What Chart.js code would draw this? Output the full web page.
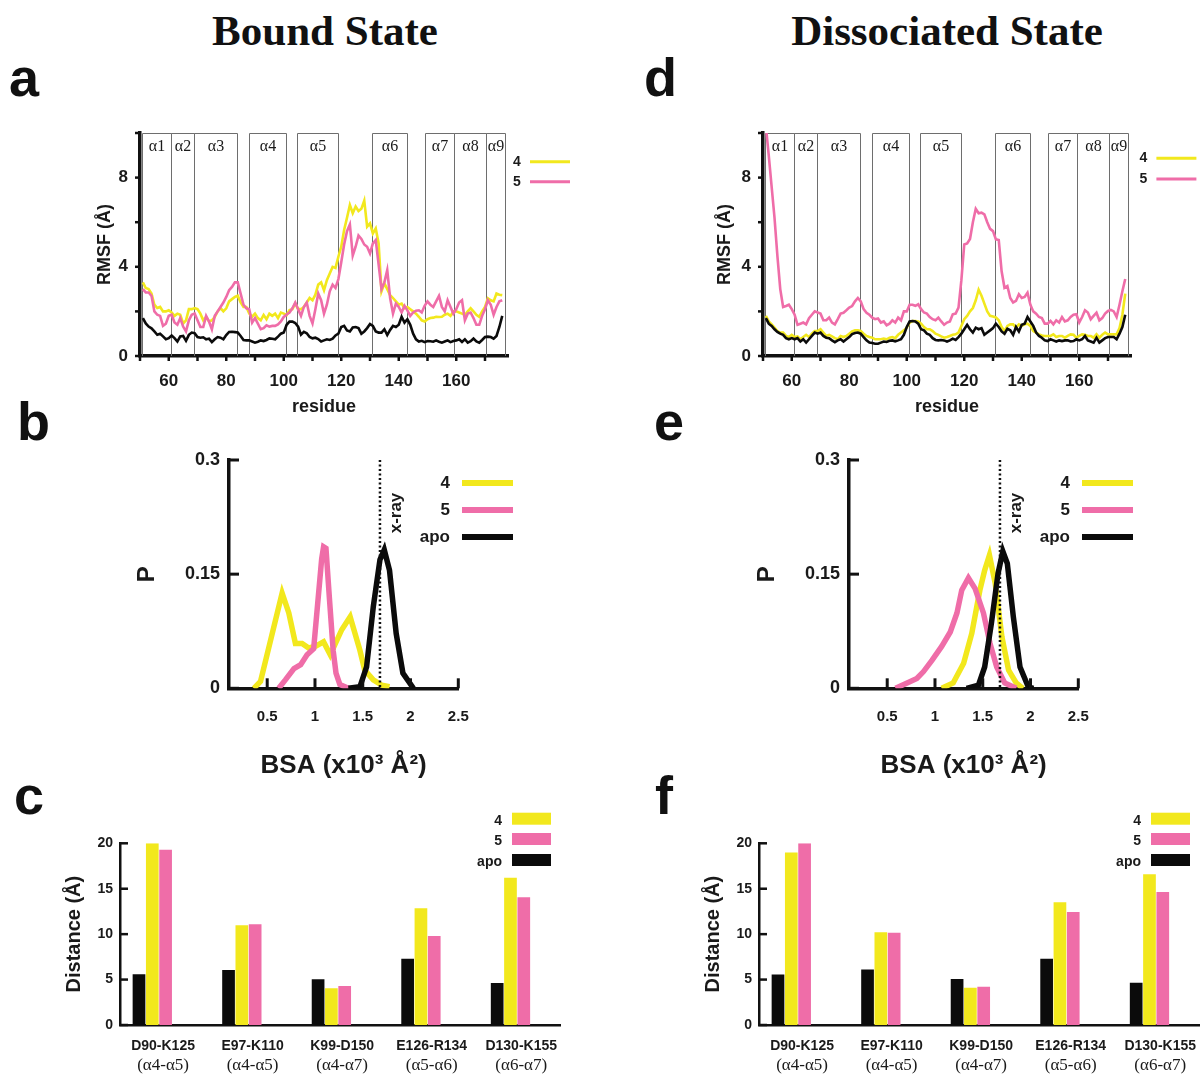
<!DOCTYPE html>
<html><head><meta charset="utf-8">
<script src="https://cdn.jsdelivr.net/npm/chart.js@4.4.1/dist/chart.umd.min.js"></script>
<style>
body{margin:0;background:#fff;width:1204px;height:1074px;position:relative;overflow:hidden;}
.title{position:absolute;font-family:'Liberation Serif','Times New Roman',serif;font-weight:bold;font-size:43px;line-height:1;color:#111;white-space:nowrap;transform:translateX(-50%);}
.letter{position:absolute;font-family:'Liberation Sans',Arial,sans-serif;font-weight:bold;font-size:54px;line-height:1;color:#111;}
canvas{position:absolute;}
</style></head>
<body>
<div class="title" style="left:325px;top:9px">Bound State</div>
<div class="title" style="left:947px;top:9px">Dissociated State</div>
<div class="letter" style="left:9px;top:50px">a</div>
<div class="letter" style="left:17px;top:394px">b</div>
<div class="letter" style="left:14px;top:768px">c</div>
<div class="letter" style="left:644px;top:50px">d</div>
<div class="letter" style="left:654px;top:394px">e</div>
<div class="letter" style="left:655px;top:768px">f</div>

<canvas id="ca" width="600" height="330" style="left:0px;top:100px"></canvas>
<canvas id="cd" width="581" height="330" style="left:623px;top:100px"></canvas>
<canvas id="cb" width="410" height="350" style="left:130px;top:440px"></canvas>
<canvas id="ce" width="410" height="350" style="left:750px;top:440px"></canvas>
<canvas id="cc" width="515" height="274" style="left:55px;top:800px"></canvas>
<canvas id="cf" width="510" height="274" style="left:694px;top:800px"></canvas>

<script>
// ---------------- DATA ----------------
const residues = [51,52,53,54,55,56,57,58,59,60,
 61,62,63,64,65,66,67,68,69,70,
 71,72,73,74,75,76,77,78,79,80,
 81,82,83,84,85,86,87,88,89,90,
 91,92,93,94,95,96,97,98,99,100,
 101,102,103,104,105,106,107,108,109,110,
 111,112,113,114,115,116,117,118,119,120,
 121,122,123,124,125,126,127,128,129,130,
 131,132,133,134,135,136,137,138,139,140,
 141,142,143,144,145,146,147,148,149,150,
 151,152,153,154,155,156,157,158,159,160,
 161,162,163,164,165,166,167,168,169,170,
 171,172,173,174,175,176];

// Bound state RMSF (Å)
const rmsfBound4 = [3.3,3.05,3.0,2.8,2.3,2.15,2.2,2.0,2.0,2.05,
 1.95,1.8,1.9,1.85,1.46,1.6,2.1,2.1,2.15,2.1,
 1.9,1.6,1.75,1.55,1.6,1.75,2.0,2.15,2.0,2.14,
 2.45,2.55,2.65,2.7,2.4,2.2,2.2,1.9,1.76,1.9,
 1.7,1.6,1.84,1.65,1.9,1.8,1.9,1.7,1.95,1.9,
 1.84,2.06,2.1,2.36,2.1,2.1,2.2,2.4,2.6,2.5,
 2.75,3.2,3.3,2.95,3.4,3.7,4.0,3.95,4.45,4.9,
 5.65,6.2,6.77,6.4,6.7,6.5,6.6,6.97,5.8,5.95,
 5.5,5.72,5.05,2.9,3.26,3.0,2.73,2.6,2.45,2.3,
 2.35,2.14,2.2,2.1,2.0,1.9,1.76,1.6,1.55,1.65,
 1.7,1.72,1.76,1.75,1.76,1.85,1.9,1.8,2.0,2.0,
 1.95,1.9,1.84,2.0,2.14,2.0,1.85,1.76,2.0,2.2,
 2.59,2.5,2.45,2.8,2.75,2.73];
const rmsfBound5 = [3.0,2.85,2.85,2.7,2.0,1.85,1.8,1.35,1.45,1.8,
 1.85,1.5,1.4,1.7,1.32,1.1,1.6,1.85,1.91,1.6,
 1.3,1.3,1.8,1.55,1.2,1.8,2.0,2.2,2.4,2.65,
 2.95,3.1,3.3,3.3,2.8,2.3,2.14,2.1,1.5,1.7,
 1.45,1.2,1.25,1.38,1.32,1.35,1.35,1.42,1.55,1.75,
 1.86,1.95,2.14,2.4,2.1,1.8,2.2,2.4,1.8,1.46,
 2.1,2.8,2.5,1.9,2.3,2.9,3.2,3.05,3.45,4.2,
 5.0,5.6,5.9,4.5,4.9,5.4,5.25,5.0,4.9,4.6,
 5.05,5.2,4.1,3.0,3.3,3.85,2.6,1.9,2.35,2.2,
 1.95,2.25,2.05,1.8,1.95,2.03,2.05,1.95,2.25,2.45,
 2.3,2.2,2.45,2.7,2.2,2.0,2.5,2.2,1.9,2.1,
 2.4,2.5,1.6,1.9,1.95,1.7,1.4,1.4,1.8,2.1,
 2.5,2.3,1.85,2.2,2.45,2.5];
const rmsfBoundApo = [1.7,1.46,1.32,1.24,1.1,0.95,1.0,0.88,0.75,0.8,
 0.92,0.8,0.65,0.88,0.9,0.68,0.95,1.05,1.02,0.85,
 0.82,0.84,0.75,0.78,0.62,0.75,0.85,0.82,0.75,0.94,
 1.08,1.09,1.07,1.05,0.9,0.72,0.7,0.7,0.65,0.6,
 0.64,0.7,0.67,0.72,0.79,0.77,0.75,0.87,1.0,1.05,
 1.4,1.54,1.54,1.48,1.32,0.96,1.08,1.02,0.85,0.79,
 0.82,0.76,0.65,0.7,0.75,0.72,0.78,0.92,1.0,1.3,
 1.35,1.15,1.1,1.28,1.3,1.25,1.0,1.1,1.25,1.43,
 1.35,1.1,1.05,1.05,1.2,0.94,1.17,1.35,1.3,1.4,
 1.76,1.5,1.65,1.4,1.0,0.75,0.65,0.68,0.62,0.67,
 0.66,0.64,0.7,0.64,0.6,0.65,0.7,0.62,0.67,0.7,
 0.75,0.63,0.75,0.6,0.66,0.78,0.65,0.6,0.72,0.85,
 0.87,0.85,0.78,0.9,1.3,1.8];

// Dissociated state RMSF (Å)
const rmsfDiss4 = [1.8,1.55,1.42,1.27,1.12,1.05,1.05,0.9,0.85,0.95,
 0.85,0.88,0.75,0.85,0.95,0.85,1.0,1.12,1.12,1.2,
 1.05,0.9,0.95,0.88,0.8,0.75,0.9,0.85,0.9,1.0,
 1.1,1.15,1.15,1.12,1.0,0.9,0.85,0.82,0.75,0.75,
 0.75,0.78,0.75,0.82,0.85,0.8,0.95,1.05,1.15,1.27,
 1.5,1.57,1.57,1.55,1.45,1.3,1.2,1.2,1.12,1.0,
 0.95,0.88,0.82,0.85,0.9,0.95,0.97,1.05,1.35,1.65,
 1.8,2.0,2.15,2.5,2.97,2.7,2.35,2.0,1.8,1.77,
 1.73,1.6,1.3,1.12,1.35,1.42,1.42,1.27,1.42,1.35,
 1.42,1.45,1.35,1.12,1.05,0.97,0.92,0.9,0.9,0.9,
 0.97,0.85,0.9,0.9,0.82,0.9,0.97,0.95,0.82,0.9,
 0.97,0.95,0.9,0.9,0.82,0.97,0.82,0.95,1.05,0.97,
 0.97,0.97,0.97,1.25,1.85,2.8];
const rmsfDiss5 = [10.3,9.0,7.6,6.2,4.5,3.0,2.2,2.24,2.3,2.1,
 1.85,1.4,1.45,1.5,1.42,1.7,1.85,2.0,1.95,1.9,
 1.6,1.6,1.72,1.5,1.42,1.65,1.9,1.94,2.05,2.17,
 2.24,2.45,2.6,2.45,2.1,1.94,1.85,1.72,1.65,1.68,
 1.5,1.55,1.38,1.45,1.6,1.5,1.72,1.6,2.0,2.0,
 2.3,2.3,2.25,2.32,2.1,1.95,1.9,1.75,1.65,1.6,
 1.72,1.55,1.4,1.5,1.55,1.87,1.9,2.17,3.4,5.0,
 5.05,5.25,6.0,6.6,6.4,6.43,6.35,6.0,5.7,5.6,
 5.23,5.2,3.8,3.06,3.14,2.6,2.4,2.47,2.77,2.6,
 2.65,2.84,2.3,2.0,1.9,1.75,1.7,1.45,1.45,1.57,
 1.42,1.6,1.5,1.75,1.55,1.6,1.75,1.85,1.87,1.5,
 1.75,2.05,1.95,1.65,1.8,1.94,1.6,1.7,1.9,2.02,
 2.07,2.0,1.75,2.3,2.9,3.45];
const rmsfDissApo = [1.7,1.45,1.35,1.2,1.08,1.0,0.95,0.8,0.75,0.8,
 0.75,0.8,0.65,0.75,0.6,0.75,0.9,1.05,1.0,1.05,
 0.9,0.82,0.8,0.7,0.62,0.7,0.75,0.65,0.75,0.85,
 0.98,1.03,1.05,1.0,0.85,0.7,0.6,0.58,0.55,0.55,
 0.6,0.65,0.63,0.68,0.7,0.66,0.7,0.75,0.95,1.3,
 1.55,1.57,1.55,1.45,1.2,1.15,1.0,0.95,0.8,0.72,
 0.7,0.72,0.7,0.65,0.7,0.78,0.72,0.85,1.0,1.2,
 1.4,1.2,1.05,1.27,1.2,1.25,0.95,1.05,1.15,1.25,
 1.45,1.3,1.1,1.0,1.22,1.15,0.95,1.3,1.1,1.4,
 1.45,1.75,1.55,1.35,1.05,0.9,0.82,0.7,0.67,0.75,
 0.7,0.65,0.7,0.67,0.7,0.7,0.65,0.67,0.75,0.7,
 0.75,0.9,0.7,0.65,0.6,0.82,0.6,0.7,0.8,0.85,
 0.85,0.85,0.75,1.0,1.3,1.85];

// Helix boxes (residue boundaries)
const helixStart = [50.7, 60.8, 68.7, 87.8, 104.7, 130.8, 149.2, 159.3, 170.3];
const helixEnd   = [60.8, 68.7, 83.9, 100.8, 118.8, 142.8, 159.3, 170.3, 176.8];
const helixLabels = ['α1','α2','α3','α4','α5','α6','α7','α8','α9'];
const rmsfXTicks = [50,60,70,80,90,100,110,120,130,140,150,160,170];
const rmsfXLabels = [60,80,100,120,140,160];
const rmsfYTicks = [0,2,4,6,8,10];
const rmsfYLabels = [0,4,8];

// BSA distributions (x in 10^3 Å^2, P)
const bsaBound4X = [0.36,0.43,0.656,0.726,0.795,0.865,0.934,1.003,1.09,1.16,1.28,1.368,1.47,1.52,1.61,1.70,1.78];
const bsaBound4Y = [0,0.009,0.125,0.099,0.059,0.059,0.053,0.055,0.061,0.044,0.077,0.094,0.05,0.024,0.011,0.004,0.002];
const bsaBound5X = [0.62,0.69,0.78,0.85,0.917,0.986,1.07,1.09,1.115,1.15,1.19,1.22,1.26,1.35];
const bsaBound5Y = [0,0.011,0.026,0.031,0.044,0.052,0.17,0.186,0.184,0.12,0.05,0.02,0.005,0];
const bsaBoundApoX = [1.35,1.47,1.54,1.61,1.68,1.725,1.78,1.85,1.92,2.03];
const bsaBoundApoY = [0,0.002,0.028,0.107,0.169,0.182,0.155,0.072,0.02,0];
const bsaDiss4X = [1.07,1.19,1.30,1.385,1.47,1.52,1.57,1.63,1.70,1.77,1.85,1.92];
const bsaDiss4Y = [0,0.007,0.033,0.072,0.129,0.155,0.175,0.138,0.068,0.024,0.007,0];
const bsaDiss5X = [0.587,0.708,0.81,0.88,0.97,1.07,1.16,1.23,1.28,1.35,1.42,1.507,1.576,1.646,1.73,1.85];
const bsaDiss5Y = [0,0.007,0.013,0.022,0.037,0.055,0.074,0.099,0.129,0.145,0.131,0.099,0.059,0.028,0.007,0];
const bsaDissApoX = [1.33,1.455,1.52,1.59,1.66,1.71,1.757,1.82,1.89,1.976,2.03];
const bsaDissApoY = [0,0.004,0.028,0.085,0.151,0.18,0.164,0.094,0.028,0.002,0];
const bsaXray = 1.68;
const bsaXTicks = [0.5,1,1.5,2,2.5];
const bsaYTicks = [0,0.15,0.3];

// Distances (Å)
const pairNames = ['D90-K125','E97-K110','K99-D150','E126-R134','D130-K155'];
const pairHelices = ['(α4-α5)','(α4-α5)','(α4-α7)','(α5-α6)','(α6-α7)'];
const pairPos = [1,2,3,4,5];
const distBoundApo = [5.58,6.06,5.03,7.3,4.62];
const distBound4   = [20.0,10.97,4.04,12.84,16.2];
const distBound5   = [19.3,11.08,4.29,9.8,14.05];
const distDissApo  = [5.57,6.1,5.05,7.3,4.65];
const distDiss4    = [19.0,10.2,4.1,13.5,16.6];
const distDiss5    = [20.0,10.15,4.2,12.45,14.65];
const distYTicks = [0,5,10,15,20];

// ---------------- STYLE ----------------
const C4 = '#F2E81D', C5 = '#EF6DA8', CAPO = '#0b0b0b', TXT = '#1a1a1a';
const SANS = "'Liberation Sans', Arial, Helvetica, sans-serif";
const SERIF = "'Liberation Serif', 'Times New Roman', serif";
Chart.defaults.font.family = SANS;
Chart.defaults.font.weight = 'bold';
Chart.defaults.color = TXT;
Chart.defaults.animation = false;
Chart.defaults.plugins.legend.display = false;
Chart.defaults.plugins.tooltip.enabled = false;

const deco = {
  id: 'deco',
  beforeDatasetsDraw(chart, args, o) {
    if (!o.helix) return;
    const {ctx, scales: {x: xs, y: ys}} = chart;
    ctx.save();
    ctx.strokeStyle = '#6e6e6e'; ctx.lineWidth = 1;
    ctx.font = '16px ' + SERIF; ctx.fillStyle = TXT;
    ctx.textAlign = 'center'; ctx.textBaseline = 'middle';
    const yt = Math.round(ys.getPixelForValue(ys.max)) + 0.5;
    const yb = ys.getPixelForValue(ys.min);
    o.helix.starts.forEach((s, i) => {
      const x0 = Math.round(xs.getPixelForValue(s)) + 0.5;
      const x1 = Math.round(xs.getPixelForValue(o.helix.ends[i])) + 0.5;
      ctx.beginPath(); ctx.moveTo(x0, yb); ctx.lineTo(x0, yt); ctx.lineTo(x1, yt); ctx.lineTo(x1, yb); ctx.stroke();
      ctx.fillText(o.helix.labels[i], (x0 + x1) / 2, yt + 13);
    });
    ctx.restore();
  },
  afterDraw(chart, args, o) {
    const {ctx, chartArea: ca, scales: {x: xs}} = chart;
    ctx.save();
    (o.marks || []).forEach(m => {
      const sc = chart.scales[m.axis];
      ctx.strokeStyle = '#111'; ctx.lineWidth = m.width;
      sc.ticks.forEach(t => {
        const p = sc.getPixelForValue(t.value);
        ctx.beginPath();
        if (m.axis === 'x') { ctx.moveTo(p, ca.bottom); ctx.lineTo(p, ca.bottom + (m.dir === 'out' ? m.len : -m.len)); }
        else { ctx.moveTo(ca.left, p); ctx.lineTo(ca.left + (m.dir === 'out' ? -m.len : m.len), p); }
        ctx.stroke();
      });
    });
    if (o.xray) {
      const px = xs.getPixelForValue(o.xray.value);
      ctx.setLineDash([2, 2.5]); ctx.lineWidth = 2.5; ctx.strokeStyle = '#111';
      ctx.beginPath(); ctx.moveTo(px, ca.top); ctx.lineTo(px, ca.bottom); ctx.stroke();
      ctx.setLineDash([]);
      ctx.save(); ctx.translate(px + o.xray.dx, ca.top + o.xray.dy); ctx.rotate(-Math.PI / 2);
      ctx.font = 'bold 17px ' + SANS; ctx.fillStyle = TXT; ctx.textAlign = 'center'; ctx.textBaseline = 'middle';
      ctx.fillText(o.xray.label, 0, 0); ctx.restore();
    }
    if (o.legend) {
      const L = o.legend;
      ctx.font = 'bold ' + L.size + 'px ' + SANS;
      ctx.textAlign = 'right'; ctx.textBaseline = 'middle';
      L.order.forEach((lab, i) => {
        const ds = chart.data.datasets.find(d => d.label === lab);
        const col = ds.borderColor && L.type === 'line' ? ds.borderColor : ds.backgroundColor;
        const yy = ca.top + L.ys[i];
        ctx.fillStyle = TXT; ctx.fillText(lab, ca.right + L.tx, yy);
        if (L.type === 'line') {
          ctx.strokeStyle = col; ctx.lineWidth = L.lw;
          ctx.beginPath(); ctx.moveTo(ca.right + L.x0, yy); ctx.lineTo(ca.right + L.x1, yy); ctx.stroke();
        } else {
          ctx.fillStyle = col; ctx.fillRect(ca.right + L.x0, yy + L.ry - L.h / 2, L.x1 - L.x0, L.h);
        }
      });
    }
    if (o.cats) {
      const C = o.cats;
      ctx.fillStyle = TXT; ctx.textAlign = 'center'; ctx.textBaseline = 'middle';
      C.names.forEach((n, i) => {
        const px = xs.getPixelForValue(C.pos[i] + C.dx);
        ctx.font = 'bold 14px ' + SANS; ctx.fillText(n, px, ca.bottom + C.y1);
        ctx.font = '17px ' + SERIF; ctx.fillText(C.subs[i], px, ca.bottom + C.y2);
      });
    }
    ctx.restore();
  }
};
Chart.register(deco);

const pts = (xa, ya) => xa.map((x, i) => ({x: x, y: ya[i]}));

function rmsfChart(id, s4, s5, sApo, padRight, leg, yTitlePad) {
  return new Chart(document.getElementById(id), {
    type: 'line',
    data: {datasets: [
      {label: 'apo', data: pts(residues, sApo), borderColor: CAPO, borderWidth: 2.6, order: 0},
      {label: '5', data: pts(residues, s5), borderColor: C5, borderWidth: 2.6, order: 1},
      {label: '4', data: pts(residues, s4), borderColor: C4, borderWidth: 2.6, order: 2}
    ]},
    options: {
      responsive: false, animation: false,
      layout: {padding: {left: 80, right: padRight, top: 33, bottom: 10}},
      elements: {point: {radius: 0}, line: {tension: 0}},
      scales: {
        x: {type: 'linear', min: 50, max: 178,
          afterFit: s => { s.height = 64; },
          afterBuildTicks: s => { s.ticks = rmsfXTicks.map(v => ({value: v})); },
          ticks: {autoSkip: false, maxRotation: 0, padding: 15, font: {size: 17}, callback: v => rmsfXLabels.includes(v) ? String(v) : ''},
          grid: {display: false, drawTicks: false},
          border: {display: true, color: '#111', width: 3.5},
          title: {display: true, text: 'residue', font: {size: 18}, padding: {top: 0, bottom: 2}}},
        y: {type: 'linear', min: 0, max: 10,
          afterFit: s => { s.width = 60; },
          afterBuildTicks: s => { s.ticks = rmsfYTicks.map(v => ({value: v})); },
          ticks: {autoSkip: false, padding: 12, font: {size: 17}, callback: v => rmsfYLabels.includes(v) ? String(v) : ''},
          grid: {display: false, drawTicks: false},
          border: {display: true, color: '#111', width: 3.5},
          title: {display: true, text: 'RMSF (Å)', font: {size: 18}, padding: {top: yTitlePad, bottom: 0}}}
      },
      plugins: {deco: {
        helix: {starts: helixStart, ends: helixEnd, labels: helixLabels},
        marks: [{axis: 'x', dir: 'out', len: 5, width: 2.5}, {axis: 'y', dir: 'out', len: 5, width: 2.5}],
        legend: Object.assign({type: 'line', order: ['4', '5'], size: 14, lw: 3}, leg)
      }}
    }
  });
}

function bsaChart(id, x4, y4, x5, y5, xa, ya) {
  return new Chart(document.getElementById(id), {
    type: 'line',
    data: {datasets: [
      {label: 'apo', data: pts(xa, ya), borderColor: CAPO, borderWidth: 5.5, order: 0},
      {label: '5', data: pts(x5, y5), borderColor: C5, borderWidth: 5.5, order: 1},
      {label: '4', data: pts(x4, y4), borderColor: C4, borderWidth: 5.5, order: 2}
    ]},
    options: {
      responsive: false, animation: false,
      layout: {padding: {left: 0, right: 81.7, top: 20, bottom: 0}},
      elements: {point: {radius: 0}, line: {tension: 0}},
      scales: {
        x: {type: 'linear', min: 0.1, max: 2.5,
          afterFit: s => { s.height = 101.7; },
          afterBuildTicks: s => { s.ticks = bsaXTicks.map(v => ({value: v})); },
          ticks: {autoSkip: false, maxRotation: 0, padding: 20, font: {size: 15}, callback: v => String(v)},
          grid: {display: false, drawTicks: false},
          border: {display: true, color: '#111', width: 3.5},
          title: {display: true, text: 'BSA (x10³ Å²)', font: {size: 26}, padding: {top: 0, bottom: 9}}},
        y: {type: 'linear', min: 0, max: 0.3,
          afterFit: s => { s.width = 99; },
          afterBuildTicks: s => { s.ticks = bsaYTicks.map(v => ({value: v})); },
          ticks: {autoSkip: false, padding: 9, font: {size: 18}, callback: v => String(v)},
          grid: {display: false, drawTicks: false},
          border: {display: true, color: '#111', width: 3.5},
          title: {display: true, text: 'P', font: {size: 24}, padding: {top: 2.5, bottom: 0}}}
      },
      plugins: {deco: {
        marks: [{axis: 'x', dir: 'in', len: 10, width: 3}, {axis: 'y', dir: 'in', len: 10, width: 3}],
        xray: {value: bsaXray, label: 'x-ray', dx: 16.5, dy: 53},
        legend: {type: 'line', order: ['4', '5', 'apo'], size: 17, lw: 6, tx: -8.3, x0: 3.7, x1: 54.7, ys: [23, 50, 77]}
      }}
    }
  });
}

function distChart(id, sApo, s4, s5, padRight) {
  return new Chart(document.getElementById(id), {
    type: 'bar',
    data: {datasets: [
      {label: 'apo', data: pts(pairPos, sApo), backgroundColor: CAPO},
      {label: '4', data: pts(pairPos, s4), backgroundColor: C4},
      {label: '5', data: pts(pairPos, s5), backgroundColor: C5}
    ]},
    options: {
      responsive: false, animation: false,
      layout: {padding: {left: 0, right: padRight, top: 43.3, bottom: 0}},
      datasets: {bar: {categoryPercentage: 0.4456, barPercentage: 0.955}},
      scales: {
        x: {type: 'linear', min: 0.6393, max: 5.553, offset: false,
          afterFit: s => { s.height = 49; },
          ticks: {display: false},
          grid: {display: false, drawTicks: false},
          border: {display: true, color: '#111', width: 2.5}},
        y: {type: 'linear', min: 0, max: 20,
          afterFit: s => { s.width = 65; },
          afterBuildTicks: s => { s.ticks = distYTicks.map(v => ({value: v})); },
          ticks: {autoSkip: false, padding: 7, font: {size: 14}, callback: v => String(v)},
          grid: {display: false, drawTicks: false},
          border: {display: true, color: '#111', width: 2.5},
          title: {display: true, text: 'Distance (Å)', font: {size: 20}, padding: {top: 7, bottom: 0}}}
      },
      plugins: {deco: {
        marks: [{axis: 'y', dir: 'in', len: 8, width: 2.5}],
        cats: {names: pairNames, subs: pairHelices, pos: pairPos, dx: 0.12, y1: 21, y2: 41},
        legend: {type: 'rect', order: ['4', '5', 'apo'], size: 14, tx: -58, x0: -48, x1: -9, ys: [-22.6, -2.3, 18.7], ry: -2, h: 12}
      }}
    }
  });
}

rmsfChart('ca', rmsfBound4, rmsfBound5, rmsfBoundApo, 92, {tx: 12.7, x0: 22, x1: 62, ys: [28.7, 48.7]}, 14);
rmsfChart('cd', rmsfDiss4, rmsfDiss5, rmsfDissApo, 73, {tx: 16.4, x0: 25.4, x1: 65.4, ys: [25.3, 46]}, 11);
bsaChart('cb', bsaBound4X, bsaBound4Y, bsaBound5X, bsaBound5Y, bsaBoundApoX, bsaBoundApoY);
bsaChart('ce', bsaDiss4X, bsaDiss4Y, bsaDiss5X, bsaDiss5Y, bsaDissApoX, bsaDissApoY);
distChart('cc', distBoundApo, distBound4, distBound5, 10);
distChart('cf', distDissApo, distDiss4, distDiss5, 5);
</script>
</body></html>
